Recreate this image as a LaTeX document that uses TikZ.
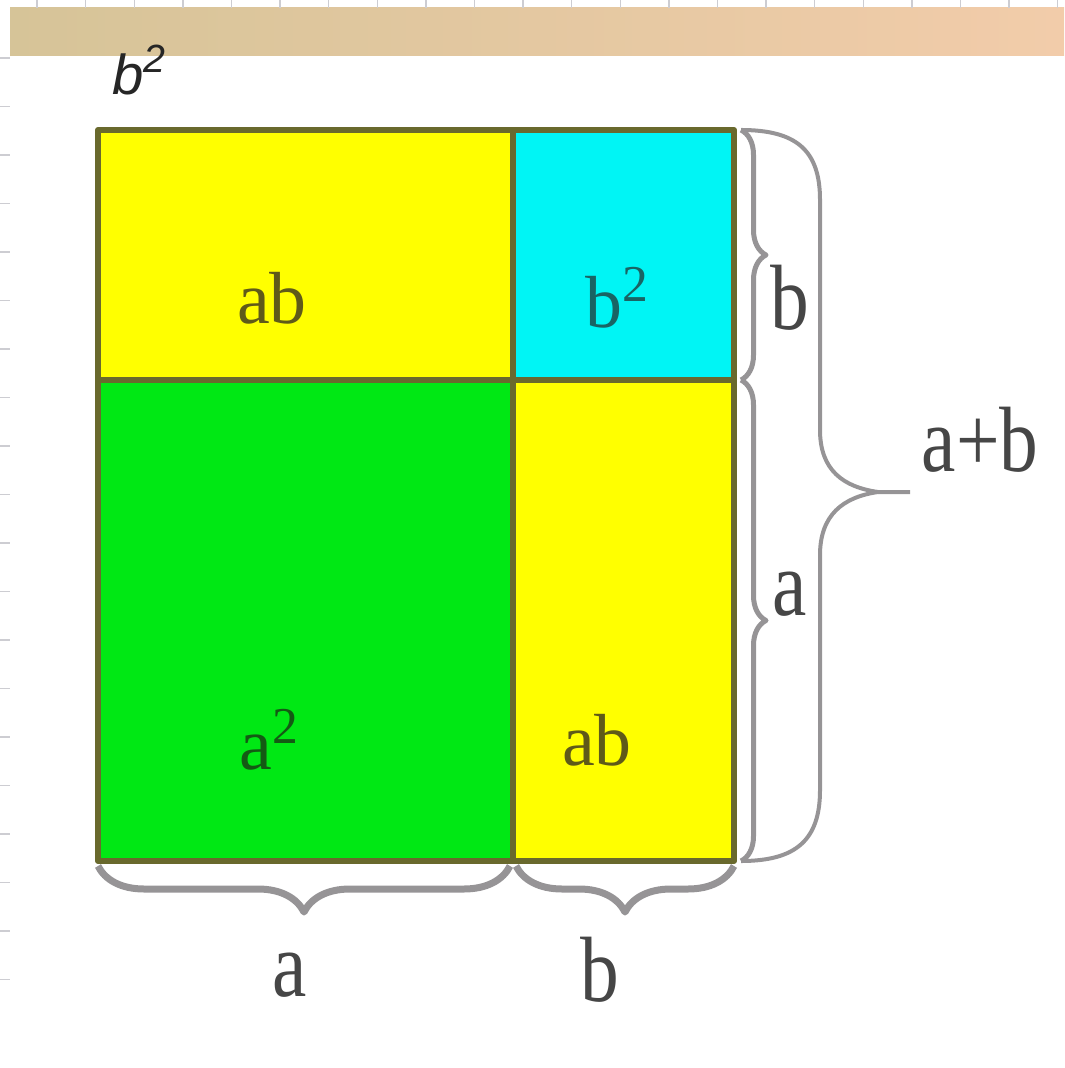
\documentclass[tikz,border=0pt]{standalone}
\usepackage{fontspec}
\setmainfont{Liberation Serif}
\newfontfamily\topsans{Liberation Sans}
\usepackage{graphicx}
\usetikzlibrary{decorations.pathreplacing}

\definecolor{cellyellow}{RGB}{255,255,0}
\definecolor{cellcyan}{RGB}{0,245,245}
\definecolor{cellgreen}{RGB}{0,232,20}
\definecolor{cellline}{RGB}{105,105,45}
\definecolor{yellowtext}{RGB}{95,90,25}
\definecolor{cyantext}{RGB}{25,100,100}
\definecolor{greentext}{RGB}{20,90,20}
\definecolor{braceline}{RGB}{150,148,150}
\definecolor{labeltext}{RGB}{70,70,70}
\definecolor{bandleft}{RGB}{214,196,152}
\definecolor{bandright}{RGB}{242,204,170}
\definecolor{gridline}{RGB}{205,205,210}

\newcommand{\tall}[1]{\scalebox{1}[1.2]{#1}}

\begin{document}
\begin{tikzpicture}[
        x = 0.1mm, y = -0.1mm, % one pixel of the picture, y downwards
        line join = round % line style
    ]

    \tikzstyle{every node}=[inner sep = 0pt, font = \fontsize{21}{21}\selectfont]
    \tikzstyle{cell}=[draw = cellline, line width = 0.6mm]
    \tikzstyle{brace}=[draw = braceline, decorate, line width = 0.5mm,
    decoration = {brace, amplitude = 2.5mm}]
    \tikzstyle{low brace}=[brace, line width = 0.7mm,
    decoration = {brace, amplitude = 4.6mm}]
    \tikzstyle{big brace}=[draw = braceline, line width = 0.4mm]
    \tikzstyle{outer}=[text = labeltext, font = \fontsize{22}{22}\selectfont]

    \useasboundingbox (0,0) rectangle (1064,1068);

    % edge of the window
    \shade[left color = bandleft, right color = bandright] (10,8) rectangle (1064,56);
    \foreach \x in {0,...,21} \draw[gridline, thin] (37+48.6*\x,0) -- (37+48.6*\x,8);
    \foreach \y in {0,...,19} \draw[gridline, thin] (0,58+48.5*\y) -- (10,58+48.5*\y);

    \node[text = black!85, font = \topsans\itshape\fontsize{16}{16}\selectfont]
    (title) at (140,70) {b\textsuperscript{2}};

    % corners of the square
    \coordinate (tl) at (98,130); \coordinate (tm) at (513,130);
    \coordinate (tr) at (734,130); \coordinate (ml) at (98,380);
    \coordinate (mm) at (513,380); \coordinate (mr) at (734,380);
    \coordinate (bl) at (98,861); \coordinate (bm) at (513,861);
    \coordinate (br) at (734,861); \coordinate (tip) at (910,492);

    \fill[cellyellow] (tl) rectangle (mm); \fill[cellcyan] (tm) rectangle (mr);
    \fill[cellgreen] (ml) rectangle (bm); \fill[cellyellow] (mm) rectangle (br);
    \draw[cell] (tl) rectangle (br);
    \draw[cell] (ml) -- (mr); \draw[cell] (tm) -- (bm);

    \node[text = yellowtext] (ab1) at (272,298) {ab};
    \node[text = cyantext] (bb) at (618,298) {b\textsuperscript{2}};
    \node[text = greentext] (aa) at (270,740) {a\textsuperscript{2}};
    \node[text = yellowtext] (ab2) at (597,740) {ab};

    % braces
    \draw[brace] ([xshift = 0.7mm]tr) -- ([xshift = 0.7mm]mr);
    \draw[brace] ([xshift = 0.7mm]mr) -- ([xshift = 0.7mm]br);
    \draw[low brace] ([xshift = -0.3mm, yshift = -0.5mm]bm) -- ([yshift = -0.5mm]bl);
    \draw[low brace] ([yshift = -0.5mm]br) -- ([xshift = 0.3mm, yshift = -0.5mm]bm);
    \draw[big brace] ([xshift = 0.7mm]tr) .. controls +(55,0) and +(0,-50) .. (820,200)
    -- (820,430) .. controls +(0,40) and +(-35,-5) .. (878,492) -- (tip);
    \draw[big brace] ([xshift = 0.7mm]br) .. controls +(55,0) and +(0,50) .. (820,790)
    -- (820,555) .. controls +(0,-40) and +(-35,5) .. (878,492);

    \node[outer] (b1) at (790,298) {\tall{b}};
    \node[outer] (a1) at (790,594) {\tall{a}};
    \node[outer] (ab) at (980,440) {\tall{a+b}};
    \node[outer] (a2) at (290,975) {\tall{a}};
    \node[outer] (b2) at (600,970) {\tall{b}};

\end{tikzpicture}
\end{document}
